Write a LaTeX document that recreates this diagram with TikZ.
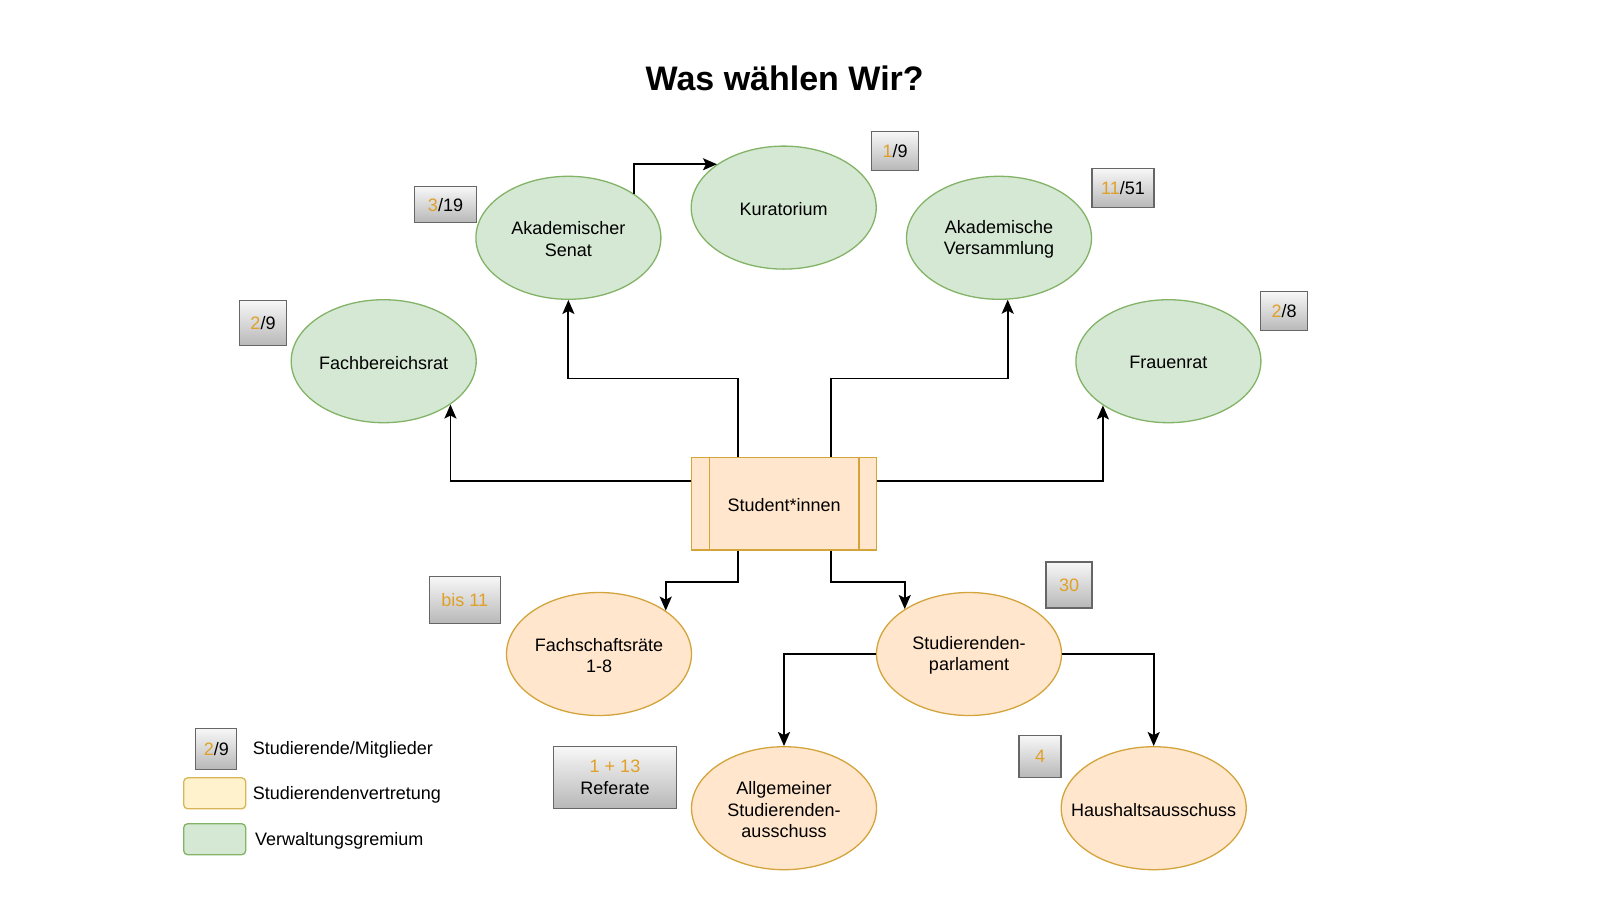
\documentclass[tikz,border=0pt]{standalone}
\usepackage{fontspec}
\setmainfont{Liberation Sans}
\usetikzlibrary{arrows.meta,calc,shapes.geometric}
\definecolor{gfill}{HTML}{D5E8D4}
\definecolor{gdraw}{HTML}{82B366}
\definecolor{ofill}{HTML}{FFE6CC}
\definecolor{odraw}{HTML}{D4A43C}
\definecolor{yfill}{HTML}{FFF2CC}
\definecolor{ydraw}{HTML}{D6B656}
\definecolor{orn}{RGB}{224,160,40}
\definecolor{bdraw}{HTML}{666666}
\begin{document}
\begin{tikzpicture}[x=1pt,y=-1pt,
  font=\fontsize{18}{21.5}\selectfont,
  gell/.style={ellipse, draw=gdraw, fill=gfill, line width=1.3pt, minimum width=185pt, minimum height=123pt, inner sep=0pt},
  oell/.style={ellipse, draw=odraw, fill=ofill, line width=1.3pt, minimum width=185pt, minimum height=123pt, inner sep=0pt},
  txt/.style={align=center, inner sep=0pt, yshift=-1.5pt},
  badge/.style={draw=bdraw, line width=1.3pt, top color=black!3, bottom color=black!28, inner sep=0pt, align=center},
  arr/.style={draw=black, line width=1.9pt, -{Stealth[length=14pt,width=12pt,inset=3pt]}},
  lgd/.style={rounded corners=4pt, line width=1.3pt, minimum width=62pt, minimum height=31pt, inner sep=0pt},
  ltxt/.style={anchor=west, inner sep=0pt, yshift=-1.2pt}]
\useasboundingbox (0,0) rectangle (1600,900);

% title
\node[anchor=base, inner sep=0pt, font=\fontsize{34}{39}\selectfont\bfseries] (title) at (784.7,90.7) {Was wählen Wir?};

% ellipses
\node[gell] (kur) at (783.7,207.6) {};
\node[txt] (kur-t) at (kur) {Kuratorium};
\node[gell] (senat) at (568.4,237.8) {};
\node[txt] (senat-t) at (senat) {Akademischer\\Senat};
\node[gell] (vers) at (999,237.8) {};
\node[txt] (vers-t) at (vers) {Akademische\\Versammlung};
\node[gell] (fbr) at (383.7,361.2) {};
\node[txt] (fbr-t) at (fbr) {Fachbereichsrat};
\node[gell] (frau) at (1168.4,361.2) {};
\node[txt] (frau-t) at (frau) {Frauenrat};
\node[oell] (fsr) at (599,654) {};
\node[txt] (fsr-t) at (fsr) {Fachschaftsräte\\1-8};
\node[oell] (stupa) at (969,654) {};
\node[txt] (stupa-t) at (stupa) {Studierenden-\\parlament};
\node[oell] (asta) at (784,808.2) {};
\node[txt] (asta-t) at (asta) {Allgemeiner\\Studierenden-\\ausschuss};
\node[oell] (haus) at (1153.7,808.2) {};
\node[txt] (haus-t) at (haus) {Haushaltsausschuss};

% student box
\node[draw=odraw, fill=ofill, line width=1.3pt, minimum width=185pt, minimum height=92.7pt, inner sep=0pt] (stu) at (784.2,503.7) {};
\node[txt] (stu-t) at (stu) {Student*innen};
\draw[draw=odraw, line width=1.3pt] ($(stu.north west)+(18.3,0)$) -- ($(stu.south west)+(18.3,0)$);
\draw[draw=odraw, line width=1.3pt] ($(stu.north east)+(-18.3,0)$) -- ($(stu.south east)+(-18.3,0)$);

% badges
\node[badge, minimum width=47pt, minimum height=39pt] (b1) at (895,151) {\textcolor{orn}{1}/9};
\node[badge, minimum width=62pt, minimum height=36pt] (b2) at (445.5,204.7) {\textcolor{orn}{3}/19};
\node[badge, minimum width=62pt, minimum height=39pt] (b3) at (1123,188) {\textcolor{orn}{11}/51};
\node[badge, minimum width=47pt, minimum height=39pt] (b4) at (1284,311.3) {\textcolor{orn}{2}/8};
\node[badge, minimum width=47pt, minimum height=45pt] (b5) at (263,323) {\textcolor{orn}{2}/9};
\node[badge, minimum width=71pt, minimum height=47pt] (b6) at (464.7,600) {\textcolor{orn}{bis 11}};
\node[badge, minimum width=46pt, minimum height=46pt] (b7) at (1069,585) {\textcolor{orn}{30}};
\node[badge, minimum width=123pt, minimum height=62pt] (b8) at (615,777.5) {\textcolor{orn}{1 + 13}\\Referate};
\node[badge, minimum width=42pt, minimum height=42pt] (b9) at (1040,756.7) {\textcolor{orn}{4}};

% connectors
\draw[arr] (senat.34.6) |- (kur.147.3);
\draw[arr] ($(stu.north)+(-46.4,0)$) |- (senat.south |- 0,378.5) -- (senat.south);
\draw[arr] ($(stu.north)+(46.4,0)$) |- (vers.278.1 |- 0,378.5) -- (vers.278.1);
\draw[arr] (stu.west |- 0,481) -| (fbr.-33.7);
\draw[arr] (stu.east |- 0,481) -| (frau.214.4);
\draw[arr] ($(stu.south)+(-46.4,0)$) |- (fsr.33.9 |- 0,581.7) -- (fsr.33.9);
\draw[arr] ($(stu.south)+(46.4,0)$) |- (stupa.145.3 |- 0,581.7) -- (stupa.145.3);
\draw[arr] (stupa.west) -| (asta.north);
\draw[arr] (stupa.east) -| (haus.north);

% legend
\node[badge, minimum width=41pt, minimum height=41pt] (lb) at (216.3,748.8) {\textcolor{orn}{2}/9};
\node[lgd, draw=ydraw, fill=yfill] (ly) at (214.7,793.3) {};
\node[lgd, draw=gdraw, fill=gfill] (lg) at (214.7,839.2) {};
\node[ltxt] (lbt) at (252.7,748.3) {Studierende/Mitglieder};
\node[ltxt] (lyt) at (252.7,793.3) {Studierendenvertretung};
\node[ltxt] (lgt) at (255,840) {Verwaltungsgremium};
\end{tikzpicture}
\end{document}
